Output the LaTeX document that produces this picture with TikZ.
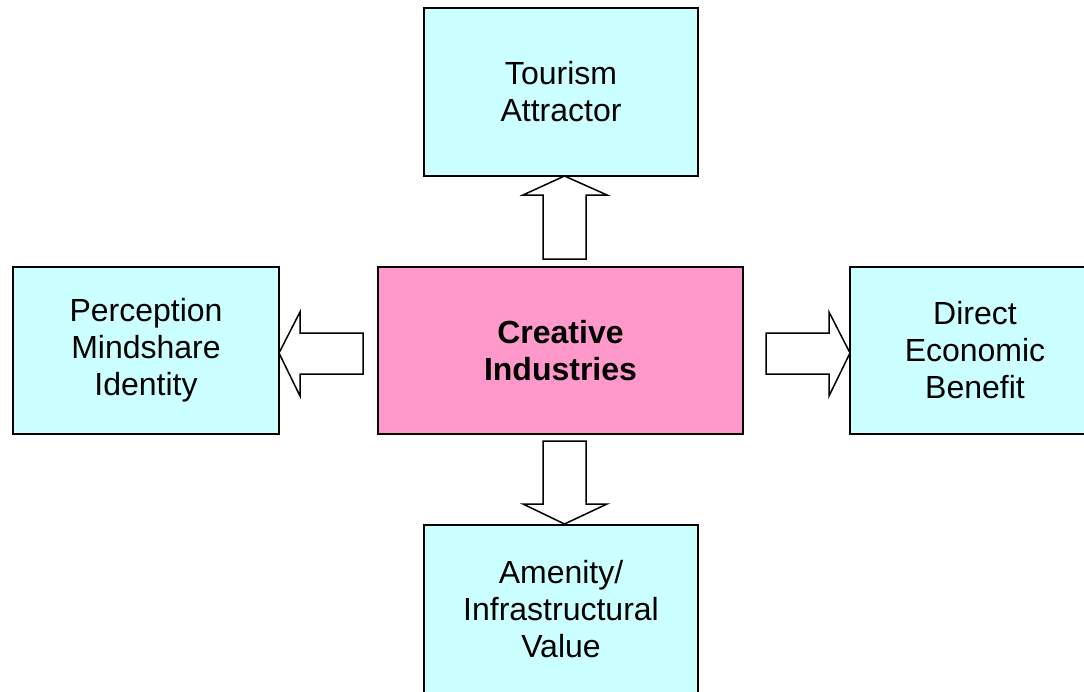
\documentclass[tikz,border=0pt]{standalone}
\usepackage{fontspec}
\setmainfont{Liberation Sans}
\usetikzlibrary{calc}
\definecolor{boxcyan}{HTML}{CCFFFF}
\definecolor{boxpink}{HTML}{FF99CC}
\tikzset{
  box/.style={draw=black, line width=1.5pt, fill=boxcyan, rectangle, inner sep=0pt, outer sep=0pt,
    align=center, font=\fontsize{32}{37}\selectfont},
  mainbox/.style={box, fill=boxpink, font=\fontsize{32}{37}\selectfont\bfseries},
  blk/.style={draw=black, line width=1.5pt, fill=white, line join=miter}
}
\begin{document}
\begin{tikzpicture}[x=1pt,y=-1pt]
\clip (0,0) rectangle (1084,691);
\fill[white] (0,0) rectangle (1084,691);
\node[box, minimum width=274pt, minimum height=168pt] (top) at (561,92) {Tourism\\Attractor};
\node[box, minimum width=266pt, minimum height=167pt] (left) at (146,350.5) {Perception\\Mindshare\\Identity};
\node[mainbox, minimum width=365pt, minimum height=167pt] (center) at (560.5,350.5) {Creative\\Industries};
\node[box, minimum width=250pt, minimum height=167pt] (right) at (975,350.5) {Direct\\Economic\\Benefit};
\node[box, minimum width=274pt, minimum height=168pt] (bottom) at (561,609) {Amenity/\\Infrastructural\\Value};
% arrow tips
\coordinate (uh) at ($(top.south)+(3.5,0)$);
\coordinate (lh) at ($(left.east)+(0,2.5)$);
\coordinate (rh) at ($(right.west)+(0,2.5)$);
\coordinate (dh) at ($(bottom.north)+(3.5,-1)$);
% up arrow
\draw[blk] (uh) -- ++(42.5,19) -- ++(-21,0) -- ++(0,64) -- ++(-43,0) -- ++(0,-64) -- ++(-20,0) -- cycle;
% left arrow
\draw[blk] (lh) -- ++(21,-41) -- ++(0,21) -- ++(63,0) -- ++(0,41) -- ++(-63,0) -- ++(0,22) -- cycle;
% right arrow
\draw[blk] (rh) -- ++(-21,-41) -- ++(0,21) -- ++(-63,0) -- ++(0,41) -- ++(63,0) -- ++(0,22) -- cycle;
% down arrow
\draw[blk] (dh) -- ++(42.5,-20) -- ++(-21,0) -- ++(0,-63) -- ++(-43,0) -- ++(0,63) -- ++(-20,0) -- cycle;
\end{tikzpicture}
\end{document}
